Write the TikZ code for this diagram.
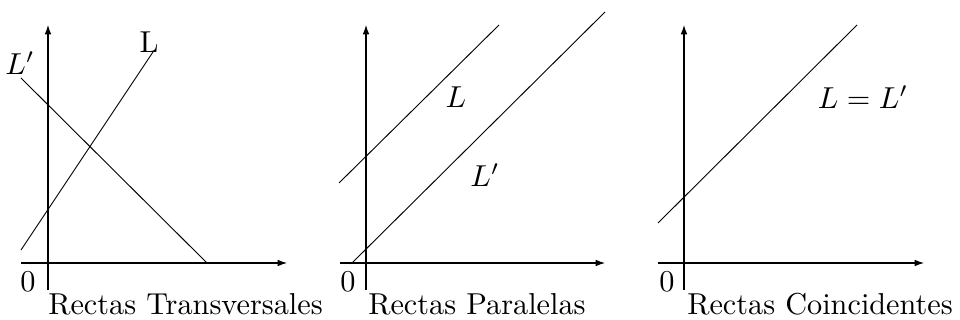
\documentclass[tikz,border=0pt]{standalone}
\usetikzlibrary{arrows.meta}
\newcommand{\bigtxt}[1]{\scalebox{2.27}{\fontsize{10}{12}\selectfont #1}}
\begin{document}
\begin{tikzpicture}[x=0.75pt,y=-0.75pt,
  axis/.style={line width=0.8pt,-{Latex[length=7pt,width=5pt]}},
  recta/.style={line width=0.7pt},
  lbl/.style={inner sep=0pt},
  captxt/.style={inner sep=0pt, anchor=base west}]
\useasboundingbox (0,0) rectangle (960,320);
% Panel 1
\coordinate (a1s) at (48,290); \coordinate (a1e) at (48,25);
\coordinate (b1s) at (21,263); \coordinate (b1e) at (287,263);
\draw[axis] (a1s) -- (a1e);
\draw[axis] (b1s) -- (b1e);
\coordinate (l1s) at (21,250); \coordinate (l1e) at (153,52);
\coordinate (m1s) at (21,78); \coordinate (m1e) at (207,263);
\draw[recta] (l1s) -- (l1e);
\draw[recta] (m1s) -- (m1e);
\node[lbl] (L1) at (149,42) {\bigtxt{L}};
\node[lbl] (Lp1) at (20,63) {\bigtxt{$L'$}};
\node[lbl] (z1) at (28,282) {\bigtxt{0}};
\node[captxt] (c1) at (48,315) {\bigtxt{Rectas Transversales}};
% Panel 2
\coordinate (a2s) at (366,290); \coordinate (a2e) at (366,25);
\coordinate (b2s) at (340,263); \coordinate (b2e) at (605,263);
\draw[axis] (a2s) -- (a2e);
\draw[axis] (b2s) -- (b2e);
\coordinate (l2s) at (339,183); \coordinate (l2e) at (499,25);
\coordinate (m2s) at (352,263); \coordinate (m2e) at (605,12);
\draw[recta] (l2s) -- (l2e);
\draw[recta] (m2s) -- (m2e);
\node[lbl] (L2) at (456,97) {\bigtxt{$L$}};
\node[lbl] (Lp2) at (485,175) {\bigtxt{$L'$}};
\node[lbl] (z2) at (348,282) {\bigtxt{0}};
\node[captxt] (c2) at (368,315) {\bigtxt{Rectas Paralelas}};
% Panel 3
\coordinate (a3s) at (684,290); \coordinate (a3e) at (684,25);
\coordinate (b3s) at (658,263); \coordinate (b3e) at (924,263);
\draw[axis] (a3s) -- (a3e);
\draw[axis] (b3s) -- (b3e);
\coordinate (l3s) at (658,223); \coordinate (l3e) at (857,25);
\draw[recta] (l3s) -- (l3e);
\node[lbl] (L3) at (863,97) {\bigtxt{$L=L'$}};
\node[lbl] (z3) at (667,282) {\bigtxt{0}};
\node[captxt] (c3) at (687,315) {\bigtxt{Rectas Coincidentes}};
\end{tikzpicture}
\end{document}
